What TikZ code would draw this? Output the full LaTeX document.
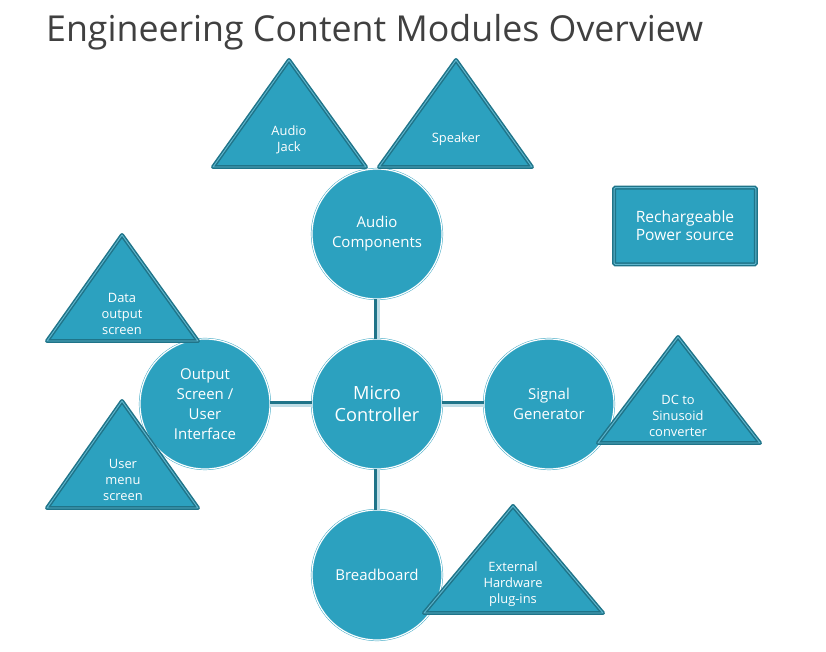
\documentclass[tikz,border=0pt]{standalone}
\usepackage{fontspec}
\setmainfont{Open Sans}
\definecolor{modfill}{HTML}{2CA1BF}
\definecolor{moddark}{HTML}{1F7489}
\definecolor{modedge}{HTML}{5FB6CE}
\definecolor{ringline}{HTML}{3DA8C4}
\definecolor{linklight}{HTML}{BFDDE6}
\definecolor{titlegray}{HTML}{404040}

\begin{document}
\begin{tikzpicture}[x=0.03cm, y=-0.03cm,
   module/.style={circle, fill=modfill, draw=ringline, double=white, line width=0.4pt,
      double distance=1pt, minimum size=3.9cm, inner sep=0pt, text=white, align=center,
      font=\fontsize{12.8}{17}\selectfont},
   hub/.style={module, font=\fontsize{15.5}{19.5}\selectfont},
   part/.style={fill=modfill, draw=moddark, double=modedge, line width=1.3pt,
      double distance=0.8pt, line join=round},
   partlabel/.style={text=white, align=center, inner sep=0pt,
      font=\fontsize{11}{13.6}\selectfont},
   powerbox/.style={rectangle, fill=modfill, draw=moddark, double=modedge, line width=1.3pt,
      double distance=0.8pt, rounded corners=1pt, minimum width=4.25cm, minimum height=2.3cm,
      text=white, align=center, font=\fontsize{13.3}{15.5}\selectfont},
   link/.style={draw=moddark, line width=5.1pt},
   linkhi/.style={draw=linklight, line width=2.1pt}]

\useasboundingbox (0,0) rectangle (826,652);

\node[anchor=base west, text=titlegray, font=\fontsize{30.5}{34}\selectfont] (title) at (42,42)
   {Engineering Content Modules Overview};

% modules
\node[hub] (mc) at (377,404) {Micro\\Controller};
\node[module] (aud) at (377,234) {Audio\\Components};
\node[module] (out) at (205,404) {Output\\Screen /\\User\\Interface};
\node[module] (sig) at (549,404) {Signal\\Generator};
\node[module] (bb) at (377,575) {Breadboard};

% links
\draw[link] (aud) -- (mc);
\draw[linkhi, transform canvas={xshift=0.045cm}] (aud) -- (mc);
\draw[link] (mc) -- (bb);
\draw[linkhi, transform canvas={xshift=0.045cm}] (mc) -- (bb);
\draw[link] (out) -- (mc);
\draw[linkhi, transform canvas={yshift=-0.045cm}] (out) -- (mc);
\draw[link] (mc) -- (sig);
\draw[linkhi, transform canvas={yshift=-0.045cm}] (mc) -- (sig);

% parts
\draw[part] (289,60) -- (366,167) -- (213,167) -- cycle;
\node[partlabel] (jack) at (289,140) {Audio\\Jack};
\draw[part] (456,60) -- (532,167) -- (379,167) -- cycle;
\node[partlabel] (speaker) at (456,139) {Speaker};
\draw[part] (122,235) -- (198,341) -- (47,341) -- cycle;
\node[partlabel] (dataout) at (122,314) {Data\\output\\screen};
\draw[part] (122,401) -- (198,508) -- (47,508) -- cycle;
\node[partlabel] (usermenu) at (123,480) {User\\menu\\screen};
\draw[part] (678,337) -- (760,443) -- (598,443) -- cycle;
\node[partlabel] (dcsin) at (678,416) {DC to\\Sinusoid\\converter};
\draw[part] (513,506) -- (603,613) -- (424,613) -- cycle;
\node[partlabel] (exthw) at (513,584) {External\\Hardware\\plug-ins};

\node[powerbox] (power) at (685,226) {Rechargeable\\Power source};

\end{tikzpicture}
\end{document}
